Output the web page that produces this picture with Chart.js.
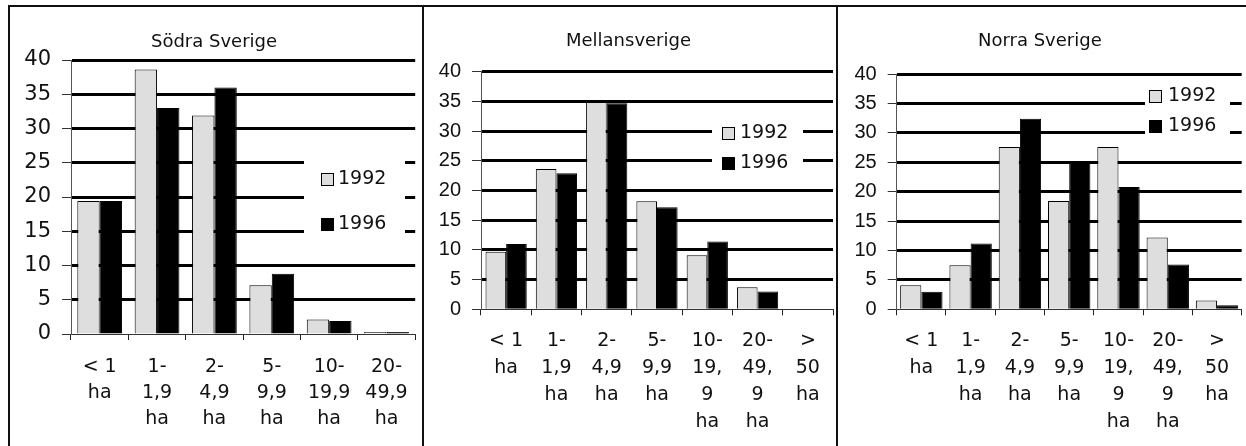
<!DOCTYPE html>
<html>
<head>
<meta charset="utf-8">
<script src="https://cdn.jsdelivr.net/npm/chart.js@4.4.1/dist/chart.umd.min.js"></script>
<style>
  body { margin: 0; background: #fff; width: 1246px; height: 446px; position: relative; overflow: hidden; }
  .panel { position: absolute; top: 8px; height: 438px; }
  .line { position: absolute; background: #111; }
</style>
</head>
<body>
<div class="line" style="left:8px; top:5px; width:1238px; height:2px;"></div>
<div class="line" style="left:8px; top:5px; width:2px; height:441px;"></div>
<div class="line" style="left:422px; top:5px; width:2px; height:441px;"></div>
<div class="line" style="left:836px; top:5px; width:2px; height:441px;"></div>

<div class="panel" style="left:10px; width:412px;"><canvas id="c1"></canvas></div>
<div class="panel" style="left:424px; width:412px;"><canvas id="c2"></canvas></div>
<div class="panel" style="left:838px; width:408px;"><canvas id="c3"></canvas></div>

<script>
// Storleksklasser (ha)
const sodraLabels = [['< 1', 'ha'], ['1-', '1,9', 'ha'], ['2-', '4,9', 'ha'], ['5-', '9,9', 'ha'], ['10-', '19,9', 'ha'], ['20-', '49,9', 'ha']];
const norrLabels = [['< 1', 'ha'], ['1-', '1,9', 'ha'], ['2-', '4,9', 'ha'], ['5-', '9,9', 'ha'], ['10-', '19,', '9', 'ha'], ['20-', '49,', '9', 'ha'], ['>', '50', 'ha']];

const years = ['1992', '1996'];

const sodra1992 = [19.4, 38.6, 31.9, 7.1, 2.1, 0.3];
const sodra1996 = [19.4, 33.0, 36.0, 8.8, 1.9, 0.3];

const mellan1992 = [9.7, 23.6, 34.9, 18.2, 9.1, 3.7, 0];
const mellan1996 = [11.0, 22.9, 34.7, 17.2, 11.4, 3.0, 0];

const norra1992 = [4.1, 7.5, 27.6, 18.4, 27.6, 12.2, 1.5];
const norra1996 = [3.0, 11.2, 32.4, 25.0, 20.8, 7.6, 0.7];

const yTicks = [0, 5, 10, 15, 20, 25, 30, 35, 40];

// legend in a white box drawn on top of the gridlines
const boxLegend = {
    id: 'boxLegend',
    afterDatasetsDraw(chart, args, opts) {
        const ctx = chart.ctx;
        ctx.save();
        ctx.fillStyle = '#fff';
        ctx.fillRect(opts.x, opts.y, opts.w, opts.h);
        ctx.font = opts.font;
        ctx.textBaseline = 'middle';
        ctx.textAlign = 'left';
        chart.data.datasets.forEach((ds, i) => {
            const cy = opts.rows[i];
            ctx.fillStyle = ds.backgroundColor;
            ctx.fillRect(opts.sx + 0.5, Math.round(cy - 6) + 0.5, 12, 12);
            ctx.strokeStyle = '#000';
            ctx.lineWidth = 1;
            ctx.strokeRect(opts.sx + 0.5, Math.round(cy - 6) + 0.5, 12, 12);
            ctx.fillStyle = '#111';
            ctx.fillText(ds.label, opts.tx, cy);
        });
        ctx.restore();
    }
};

function makeChart(id, cfg) {
    const ctx = document.getElementById(id).getContext('2d');
    return new Chart(ctx, {
        type: 'bar',
        data: {
            labels: cfg.labels,
            datasets: [
                {
                    label: years[0],
                    data: cfg.a,
                    backgroundColor: '#dedede',
                    borderColor: '#000',
                    borderWidth: 1,
                    categoryPercentage: cfg.catPct,
                    barPercentage: 1
                },
                {
                    label: years[1],
                    data: cfg.b,
                    backgroundColor: '#000',
                    borderColor: '#000',
                    borderWidth: 1,
                    categoryPercentage: cfg.catPct,
                    barPercentage: 1
                }
            ]
        },
        options: {
            responsive: true,
            maintainAspectRatio: false,
            animation: false,
            layout: {
                padding: { top: 0, left: 0, right: cfg.padRight, bottom: 0 }
            },
            plugins: {
                legend: { display: false },
                tooltip: { enabled: false },
                title: {
                    display: true,
                    text: cfg.title,
                    color: '#111',
                    font: { family: 'DejaVu Sans', size: 18, weight: 'normal', lineHeight: 1.2 },
                    padding: { top: cfg.titleTop, bottom: cfg.titleBottom }
                },
                boxLegend: cfg.legend
            },
            scales: {
                x: {
                    afterFit: scale => { scale.height = cfg.xHeight; },
                    grid: {
                        display: true,
                        drawOnChartArea: false,
                        offset: true,
                        tickLength: 6,
                        tickWidth: 1,
                        tickColor: '#222'
                    },
                    border: { display: true, color: '#333', width: 1 },
                    ticks: {
                        color: '#111',
                        padding: cfg.xPad,
                        maxRotation: 0,
                        autoSkip: false,
                        font: { family: 'DejaVu Sans', size: 19, lineHeight: cfg.xLine }
                    }
                },
                y: {
                    min: 0,
                    max: 40,
                    afterFit: scale => { scale.width = cfg.yWidth; },
                    afterBuildTicks: scale => { scale.ticks = yTicks.map(v => ({ value: v })); },
                    grid: {
                        color: '#000',
                        lineWidth: c => (c.tick && c.tick.value === 0 ? 1 : 3),
                        tickLength: 9,
                        tickWidth: 1,
                        tickColor: '#333'
                    },
                    border: { display: true, color: '#555', width: 1 },
                    ticks: {
                        color: '#111',
                        padding: 11,
                        font: { family: cfg.yFont, size: cfg.ySize }
                    }
                }
            }
        },
        plugins: [boxLegend]
    });
}

makeChart('c1', {
    title: 'Södra Sverige',
    labels: sodraLabels, a: sodra1992, b: sodra1996,
    catPct: 0.78, padRight: 4,
    titleTop: 23.2, titleBottom: 7.2,
    yWidth: 61, xHeight: 112, xPad: 14, xLine: 1.37,
    yFont: 'DejaVu Sans', ySize: 21,
    legend: { x: 294, y: 152, w: 101, h: 75, sx: 311, tx: 328, rows: [171, 216], font: '19px "DejaVu Sans"' }
});

makeChart('c2', {
    title: 'Mellansverige',
    labels: norrLabels, a: mellan1992, b: mellan1996,
    catPct: 0.82, padRight: 3,
    titleTop: 22.2, titleBottom: 19.9,
    yWidth: 57, xHeight: 136.7, xPad: 12.2, xLine: 1.42,
    yFont: 'Liberation Sans', ySize: 20,
    legend: { x: 288, y: 115, w: 91, h: 50, sx: 298, tx: 316, rows: [125, 155], font: '19px "DejaVu Sans"' }
});

makeChart('c3', {
    title: 'Norra Sverige',
    labels: norrLabels, a: norra1992, b: norra1996,
    catPct: 0.86, padRight: 4.3,
    titleTop: 22.2, titleBottom: 22.2,
    yWidth: 58.7, xHeight: 136.7, xPad: 12.2, xLine: 1.42,
    yFont: 'Liberation Sans', ySize: 20,
    legend: { x: 307, y: 78, w: 85, h: 58, sx: 311, tx: 330, rows: [88, 118], font: '19px "DejaVu Sans"' }
});
</script>
</body>
</html>
